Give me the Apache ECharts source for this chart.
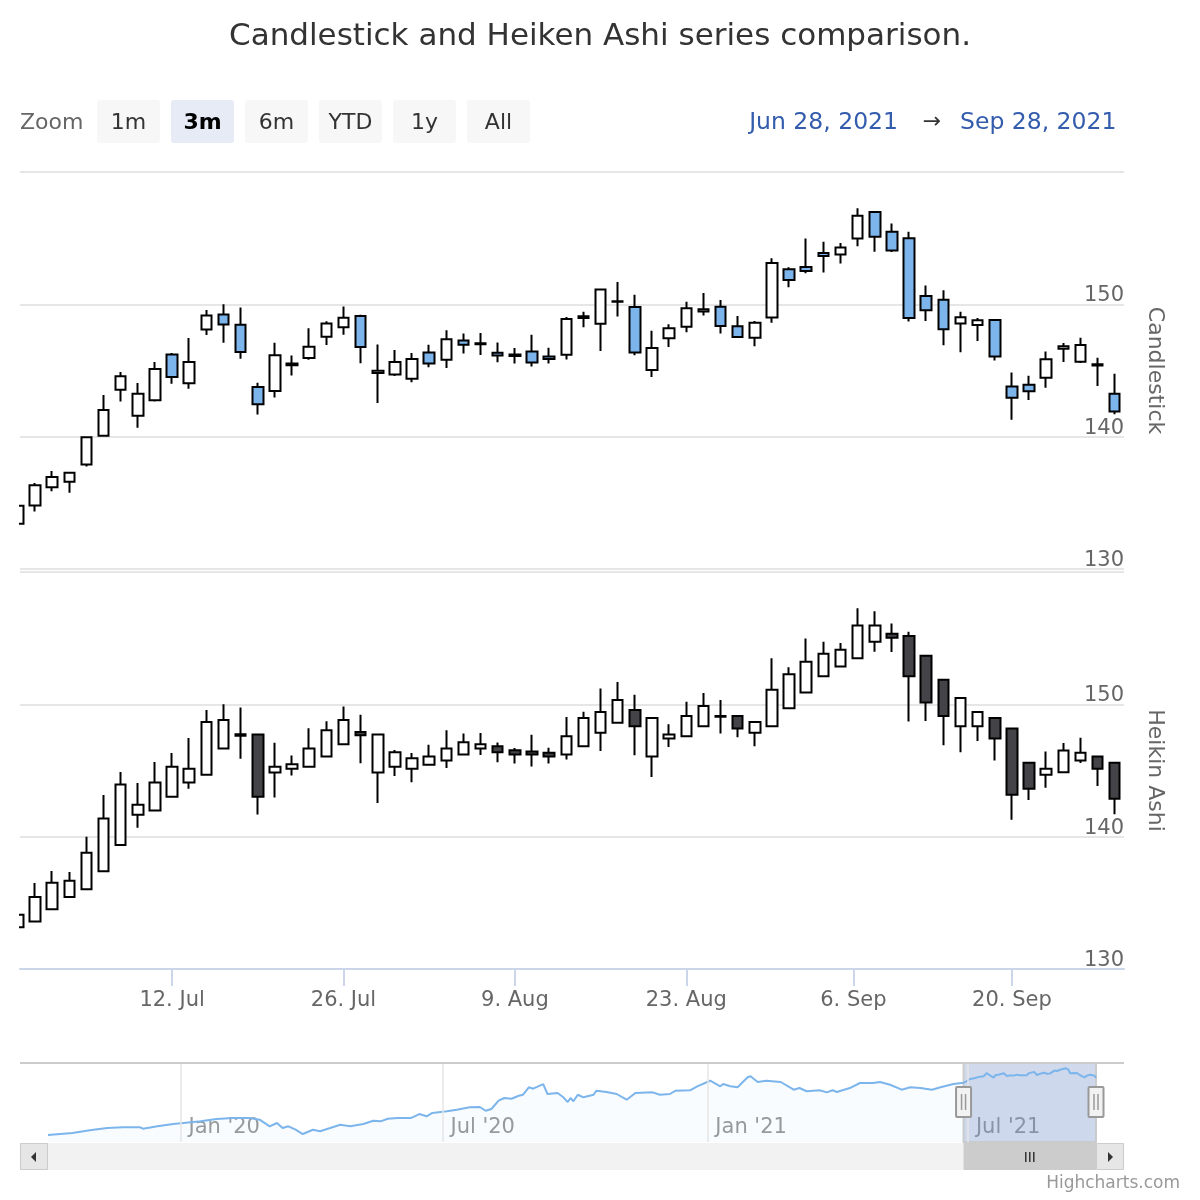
<!DOCTYPE html>
<html>
<head>
<meta charset="utf-8">
<script src="https://cdn.jsdelivr.net/npm/echarts@6/dist/echarts.min.js"></script>
<style>html,body{margin:0;padding:0;background:#ffffff}#c{width:1200px;height:1200px}</style>
</head>
<body>
<div id="c"></div>
<script>
// ---------- data ----------
const dates = ['2021-06-28','2021-06-29','2021-06-30','2021-07-01','2021-07-02','2021-07-06','2021-07-07','2021-07-08','2021-07-09',
  '2021-07-12','2021-07-13','2021-07-14','2021-07-15','2021-07-16','2021-07-19','2021-07-20','2021-07-21','2021-07-22','2021-07-23',
  '2021-07-26','2021-07-27','2021-07-28','2021-07-29','2021-07-30','2021-08-02','2021-08-03','2021-08-04','2021-08-05','2021-08-06',
  '2021-08-09','2021-08-10','2021-08-11','2021-08-12','2021-08-13','2021-08-16','2021-08-17','2021-08-18','2021-08-19','2021-08-20',
  '2021-08-23','2021-08-24','2021-08-25','2021-08-26','2021-08-27','2021-08-30','2021-08-31','2021-09-01','2021-09-02','2021-09-03',
  '2021-09-07','2021-09-08','2021-09-09','2021-09-10','2021-09-13','2021-09-14','2021-09-15','2021-09-16','2021-09-17',
  '2021-09-20','2021-09-21','2021-09-22','2021-09-23','2021-09-24','2021-09-27','2021-09-28'];

const candleOpen = [133.41,134.80,136.17,136.60,137.90,140.07,143.54,141.58,142.75,146.21,144.03,148.10,149.24,148.46,143.75,143.46,145.53,145.94,147.55,148.27,
  149.12,144.81,144.69,144.38,146.36,145.81,147.27,146.98,146.35,146.20,146.44,146.05,146.19,148.97,148.54,150.23,149.80,145.03,147.44,148.31,
  149.45,149.81,148.35,147.48,149.00,152.66,152.83,153.87,153.76,154.97,156.98,155.49,155.00,150.63,150.35,148.56,148.44,148.82,143.80,143.93,
  144.45,146.65,145.66,145.47,143.25];
const candleHigh = [135.25,136.49,137.41,137.33,140.00,143.15,144.89,144.06,145.65,146.32,147.46,149.57,150.00,149.76,144.07,147.10,146.13,148.19,148.72,149.83,
  149.21,146.97,146.55,146.33,146.95,148.04,147.79,147.84,147.11,146.70,147.71,146.72,149.05,149.44,151.19,151.68,150.72,148.00,148.50,150.19,
  150.86,150.32,149.12,148.75,153.49,152.80,154.98,154.72,154.63,157.26,157.04,156.11,155.48,151.42,151.07,149.44,148.97,148.82,144.84,144.60,
  146.43,147.08,147.47,145.96,144.75];
const candleLow = [133.35,134.35,135.87,135.76,137.75,140.07,142.66,140.67,142.65,144.00,143.63,147.68,147.09,145.88,141.67,142.96,144.63,145.81,146.92,147.70,
  145.55,142.54,144.58,144.11,145.25,145.18,146.28,146.17,145.63,145.52,145.30,145.53,145.84,148.27,146.47,149.09,146.15,144.50,146.78,147.89,
  149.15,147.80,147.51,146.83,148.61,151.29,152.34,152.40,153.09,154.39,153.98,153.95,148.70,148.75,146.91,146.37,147.22,145.76,141.27,142.78,
  143.70,145.64,145.56,143.82,141.69];
const candleClose = [134.78,136.33,136.96,137.27,139.96,142.02,144.57,143.24,145.11,144.50,145.64,149.15,148.48,146.39,142.45,146.15,145.40,146.80,148.56,148.99,
  146.77,144.98,145.64,145.86,145.52,147.36,146.95,147.06,146.14,146.09,145.60,145.86,148.89,149.10,151.12,150.19,146.36,146.70,148.19,149.71,
  149.62,148.36,147.54,148.60,153.12,151.83,152.51,153.65,154.30,156.69,155.11,154.07,148.97,149.55,148.12,149.03,148.79,146.06,142.94,143.43,
  145.85,146.83,146.92,145.37,141.91];

const haOpen = [133.16,133.59,134.51,135.44,136.03,137.39,139.37,141.65,141.97,143.01,144.10,144.68,146.66,147.74,147.72,144.84,145.14,145.29,146.05,146.99,
  147.90,144.84,145.29,145.14,145.44,145.75,146.20,146.66,146.84,146.53,146.43,146.35,146.20,146.84,147.85,148.61,149.57,146.05,147.42,147.59,
  148.35,149.11,149.11,147.85,148.35,149.70,150.89,152.13,152.86,153.49,154.73,155.34,155.16,153.67,151.85,148.35,148.35,148.96,148.18,145.59,
  144.68,144.86,145.75,146.05,145.59];
const haHigh = [135.25,136.49,137.41,137.33,140.00,143.15,144.89,144.06,145.65,146.32,147.46,149.57,150.00,149.76,147.72,147.10,146.13,148.19,148.72,149.83,
  149.21,147.72,146.55,146.33,146.95,148.04,147.79,147.84,147.11,146.70,147.71,146.72,149.05,149.44,151.19,151.68,150.72,148.96,148.50,150.19,
  150.86,150.32,149.12,148.75,153.49,152.80,154.98,154.72,154.63,157.26,157.04,156.11,155.48,153.67,151.85,150.48,149.42,148.96,148.18,145.59,
  146.43,147.08,147.47,146.05,145.59];
const haLow = [133.16,133.59,134.51,135.44,136.03,137.39,139.37,140.67,141.97,143.01,143.63,144.68,146.66,145.88,141.67,142.96,144.63,145.29,146.05,146.99,
  145.55,142.54,144.58,144.11,145.44,145.18,146.20,146.17,145.63,145.52,145.30,145.53,145.84,146.84,146.47,148.61,146.15,144.50,146.78,147.59,
  148.35,147.80,147.51,146.83,148.35,149.70,150.89,152.13,152.86,153.49,153.98,153.95,148.70,148.75,146.91,146.37,147.22,145.76,141.27,142.78,
  143.70,144.86,145.56,143.82,141.69];
const haClose = [134.10,135.44,136.51,136.66,138.78,141.37,143.95,142.41,144.10,145.29,145.14,148.66,148.81,147.62,143.01,145.29,145.47,146.66,148.05,148.81,
  147.66,147.72,146.38,145.92,146.05,146.66,147.14,146.99,146.38,146.20,146.20,146.05,147.59,148.96,149.42,150.33,148.35,148.96,147.72,149.11,
  149.87,149.07,148.18,148.66,151.11,152.28,153.22,153.82,154.13,155.95,155.95,155.04,152.13,150.13,149.11,150.48,149.42,147.42,143.16,143.62,
  145.14,146.51,146.35,145.14,142.86];

// x tick positions in trading-day index units (6. Sep falls on a holiday, between Sep 3 and Sep 7)
const tickPositions = [9, 19, 29, 39, 48.75, 58];
const tickLabels = ['12. Jul', '26. Jul', '9. Aug', '23. Aug', '6. Sep', '20. Sep'];
const yTicks = [130, 140, 150, 160];

// navigator history (sampled from the navigator thumbnail), before the selected range
const navDates = ['2019-10-01','2019-10-18','2019-10-30','2019-11-11','2019-11-22','2019-12-04','2019-12-06','2019-12-16','2019-12-27',
  '2020-01-03','2020-01-15','2020-01-26','2020-02-06','2020-02-18','2020-02-25','2020-03-03','2020-03-08','2020-03-12','2020-03-16',
  '2020-03-21','2020-03-26','2020-04-02','2020-04-07','2020-04-14','2020-04-21','2020-04-28','2020-05-07','2020-05-14','2020-05-19',
  '2020-05-24','2020-05-31','2020-06-09','2020-06-15','2020-06-20','2020-06-24','2020-07-04','2020-07-11','2020-07-20','2020-07-27',
  '2020-07-31','2020-08-04','2020-08-09','2020-08-13','2020-08-18','2020-08-23','2020-08-26','2020-08-30','2020-09-02','2020-09-09',
  '2020-09-12','2020-09-19','2020-09-23','2020-09-26','2020-09-28','2020-09-30','2020-10-03','2020-10-07','2020-10-14','2020-10-16',
  '2020-10-23','2020-10-30','2020-11-06','2020-11-12','2020-11-24','2020-11-29','2020-12-06','2020-12-10','2020-12-20','2020-12-25',
  '2021-01-03','2021-01-10','2021-01-12','2021-01-17','2021-01-22','2021-01-29','2021-01-31','2021-02-05','2021-02-11','2021-02-21',
  '2021-03-02','2021-03-06','2021-03-11','2021-03-20','2021-03-25','2021-03-29','2021-04-01','2021-04-10','2021-04-17','2021-04-26',
  '2021-05-01','2021-05-08','2021-05-16','2021-05-22','2021-05-29','2021-06-06','2021-06-12','2021-06-21'];
const navValues = [56.0,59.0,63.1,66.5,67.6,67.6,65.5,69.1,72.6,
  74.1,76.6,80.1,81.6,81.6,79.1,69.1,74.1,66.5,69.1,
  64.0,57.5,64.0,61.6,66.5,71.5,69.1,72.6,77.5,76.6,
  80.6,81.6,81.6,87.6,84.2,89.2,91.7,94.1,97.7,98.2,
  92.6,95.2,107.7,111.8,110.7,115.2,116.7,127.9,125.8,132.8,
  117.8,119.3,112.8,105.7,111.8,106.8,116.7,112.8,116.7,122.8,
  120.8,117.8,109.2,119.3,120.3,116.7,117.8,122.8,123.4,129.4,
  137.8,129.4,132.9,129.4,127.9,143.0,144.5,135.9,137.8,135.9,
  124.3,126.8,121.9,123.4,120.3,123.4,120.8,126.8,134.4,134.4,
  135.9,131.8,124.3,127.9,126.8,124.3,127.9,132.9];
const navTickDates = ['2020-01-01', '2020-07-01', '2021-01-01', '2021-07-01'];
const navTickLabels = ["Jan '20", "Jul '20", "Jan '21", "Jul '21"];
const navStart = '2019-10-01';

const zoomButtons = ['1m', '3m', '6m', 'YTD', '1y', 'All'];
const selectedButton = 1;

// ---------- helpers ----------
const FONT = '"DejaVu Sans", "Noto Sans", sans-serif';
const MONTHS = ['Jan','Feb','Mar','Apr','May','Jun','Jul','Aug','Sep','Oct','Nov','Dec'];
function fmtDate(s) { const p = s.split('-'); return MONTHS[+p[1] - 1] + ' ' + (+p[2]) + ', ' + p[0]; }
function ts(s) { const p = s.split('-'); return Date.UTC(+p[0], +p[1] - 1, +p[2]); }

const topData = dates.map((d, i) => [i, candleOpen[i], candleClose[i], candleLow[i], candleHigh[i]]);
const haData = dates.map((d, i) => [i, haOpen[i], haClose[i], haLow[i], haHigh[i]]);
const navData = navDates.map((d, i) => [ts(d), navValues[i]])
  .concat(dates.map((d, i) => [ts(d), candleClose[i]]));

const lastIdx = dates.length - 1;

function priceAxis(grid, name) {
  return {
    type: 'value', gridIndex: grid, position: 'right',
    min: yTicks[0], max: yTicks[yTicks.length - 1], interval: 10,
    name: name, nameLocation: 'middle', nameRotate: -90, nameGap: 20,
    nameTextStyle: { color: '#666666', fontSize: 22, fontFamily: FONT },
    axisLine: { show: false }, axisTick: { show: false },
    axisLabel: { inside: true, showMaxLabel: false, verticalAlign: 'bottom', margin: 0,
      padding: [0, 0, -2, 0], fontSize: 21, color: '#666666', fontFamily: FONT },
    splitLine: { show: true, lineStyle: { color: '#e6e6e6', width: 2 } }
  };
}

const chart = echarts.init(document.getElementById('c'));
chart.setOption({
  animation: false,
  backgroundColor: '#ffffff',
  textStyle: { fontFamily: FONT },
  title: {
    text: 'Candlestick and Heiken Ashi series comparison.',
    left: 'center', top: 16,
    textStyle: { fontSize: 31, fontWeight: 'normal', color: '#333333', fontFamily: FONT }
  },
  grid: [
    { left: 20, right: 76, top: 172, height: 397 },
    { left: 20, right: 76, top: 572, height: 397 },
    { left: 48, right: 104, top: 1063, height: 79 }
  ],
  xAxis: [
    { type: 'value', gridIndex: 0, min: 0.125, max: 64.54, show: false },
    { type: 'value', gridIndex: 1, min: 0.125, max: 64.54,
      axisLine: { show: true, onZero: false, lineStyle: { color: '#ccd6eb', width: 2 } },
      axisTick: { show: true, customValues: tickPositions, length: 17, lineStyle: { color: '#ccd6eb', width: 2 } },
      axisLabel: { customValues: tickPositions, margin: 21, fontSize: 21, color: '#666666', fontFamily: FONT,
        formatter: v => { const k = tickPositions.findIndex(p => Math.abs(p - v) < 1e-6); return k >= 0 ? tickLabels[k] : ''; } },
      splitLine: { show: false } },
    { type: 'value', gridIndex: 2, min: ts(navStart), max: ts(dates[lastIdx]),
      axisLine: { show: false }, axisTick: { show: false }, splitLine: { show: false },
      axisLabel: { customValues: navTickDates.map(ts), inside: true, align: 'left', margin: 4,
        padding: [0, 0, 0, 8], fontSize: 21, color: '#999999', fontFamily: FONT,
        formatter: v => { const k = navTickDates.findIndex(d => Math.abs(ts(d) - v) < 3600000); return k >= 0 ? navTickLabels[k] : ''; } } }
  ],
  yAxis: [
    priceAxis(0, 'Candlestick'),
    priceAxis(1, 'Heikin Ashi'),
    { type: 'value', gridIndex: 2, min: 45.5, max: 164.5, show: false }
  ],
  series: [
    { name: 'Candlestick', type: 'candlestick', xAxisIndex: 0, yAxisIndex: 0, data: topData,
      encode: { x: 0, y: [1, 2, 3, 4] }, barWidth: 11, clip: true,
      itemStyle: { color: '#ffffff', color0: '#7cb5ec', borderColor: '#000000', borderColor0: '#000000',
        borderColorDoji: '#000000', borderWidth: 2 } },
    { name: 'Heikin Ashi', type: 'candlestick', xAxisIndex: 1, yAxisIndex: 1, data: haData,
      encode: { x: 0, y: [1, 2, 3, 4] }, barWidth: 11, clip: true,
      itemStyle: { color: '#ffffff', color0: '#434348', borderColor: '#000000', borderColor0: '#000000',
        borderColorDoji: '#000000', borderWidth: 2 } },
    { name: 'Navigator', type: 'line', xAxisIndex: 2, yAxisIndex: 2, data: navData, showSymbol: false, silent: true,
      lineStyle: { color: '#7cb5ec', width: 2 }, areaStyle: { color: 'rgba(124,181,236,0.06)' },
      markLine: { silent: true, symbol: 'none', label: { show: false }, animation: false,
        lineStyle: { color: '#e6e6e6', width: 1.5, type: 'solid' },
        data: navTickDates.map(d => ({ xAxis: ts(d) })) },
      markArea: { silent: true, itemStyle: { color: 'rgba(102,133,194,0.3)', borderColor: '#cccccc', borderWidth: 2 },
        data: [[{ xAxis: ts(dates[0]) }, { xAxis: ts(dates[lastIdx]) }]] } }
  ]
});

// ---------- range selector, navigator handles, scrollbar, credits ----------
const px0 = chart.convertToPixel({ xAxisIndex: 2 }, ts(dates[0]));
const px1 = chart.convertToPixel({ xAxisIndex: 2 }, ts(dates[lastIdx]));
const plotLeft = chart.convertToPixel({ xAxisIndex: 0 }, 0.125);
const g = [];
// clip the part of the first candle that lies left of the plot area
g.push({ type: 'rect', shape: { x: 0, y: 150, width: plotLeft - 1, height: 830 }, style: { fill: '#ffffff' }, z: 100 });

g.push({ type: 'text', x: 20, y: 123, style: { text: 'Zoom', fill: '#666666', font: '22px ' + FONT, align: 'left', verticalAlign: 'middle' } });
zoomButtons.forEach((b, k) => {
  const bx = 97 + k * 74;
  const sel = k === selectedButton;
  g.push({ type: 'rect', shape: { x: bx, y: 100, width: 63, height: 43, r: 3 }, style: { fill: sel ? '#e6ebf5' : '#f7f7f7' } });
  g.push({ type: 'text', x: bx + 31.5, y: 123, style: { text: b, fill: sel ? '#000000' : '#333333',
    font: (sel ? 'bold ' : '') + '22px ' + FONT, align: 'center', verticalAlign: 'middle' } });
});
g.push({ type: 'text', x: 898, y: 123, style: { text: fmtDate(dates[0]), fill: '#335cad', font: '23.5px ' + FONT, align: 'right', verticalAlign: 'middle' } });
g.push({ type: 'text', x: 932, y: 122, style: { text: '→', fill: '#333333', font: '22px ' + FONT, align: 'center', verticalAlign: 'middle' } });
g.push({ type: 'text', x: 960, y: 123, style: { text: fmtDate(dates[lastIdx]), fill: '#335cad', font: '23.5px ' + FONT, align: 'left', verticalAlign: 'middle' } });

// navigator outline
g.push({ type: 'line', shape: { x1: 20, y1: 1063, x2: 1124, y2: 1063 }, style: { stroke: '#cccccc', lineWidth: 2 }, z: 10 });
// scrollbar
g.push({ type: 'rect', shape: { x: 20, y: 1143, width: 1104, height: 27 }, style: { fill: '#f2f2f2' } });
g.push({ type: 'rect', shape: { x: px0, y: 1143, width: px1 - px0, height: 27 }, style: { fill: '#cccccc' } });
const cx = (px0 + px1) / 2;
[-4, 0, 4].forEach(o => g.push({ type: 'line', shape: { x1: cx + o, y1: 1152, x2: cx + o, y2: 1162 }, style: { stroke: '#333333', lineWidth: 1.5 } }));
g.push({ type: 'rect', shape: { x: 20.5, y: 1143.5, width: 27, height: 26 }, style: { fill: '#e6e6e6', stroke: '#cccccc', lineWidth: 1 } });
g.push({ type: 'polygon', shape: { points: [[36, 1152], [36, 1162], [31, 1157]] }, style: { fill: '#333333' } });
g.push({ type: 'rect', shape: { x: 1096.5, y: 1143.5, width: 27, height: 26 }, style: { fill: '#e6e6e6', stroke: '#cccccc', lineWidth: 1 } });
g.push({ type: 'polygon', shape: { points: [[1108, 1152], [1108, 1162], [1113, 1157]] }, style: { fill: '#333333' } });
// navigator handles
[px0, px1].forEach(p => {
  g.push({ type: 'rect', shape: { x: p - 7.5, y: 1087, width: 15, height: 30, r: 1 }, style: { fill: '#f2f2f2', stroke: '#999999', lineWidth: 2 }, z: 20 });
  [-2, 2].forEach(o => g.push({ type: 'line', shape: { x1: p + o, y1: 1094, x2: p + o, y2: 1110 }, style: { stroke: '#999999', lineWidth: 1.5 }, z: 21 }));
});
// credits
g.push({ type: 'text', x: 1180, y: 1184, style: { text: 'Highcharts.com', fill: '#999999', font: '17px ' + FONT, align: 'right', verticalAlign: 'middle' } });

chart.setOption({ graphic: g });
</script>
</body>
</html>
